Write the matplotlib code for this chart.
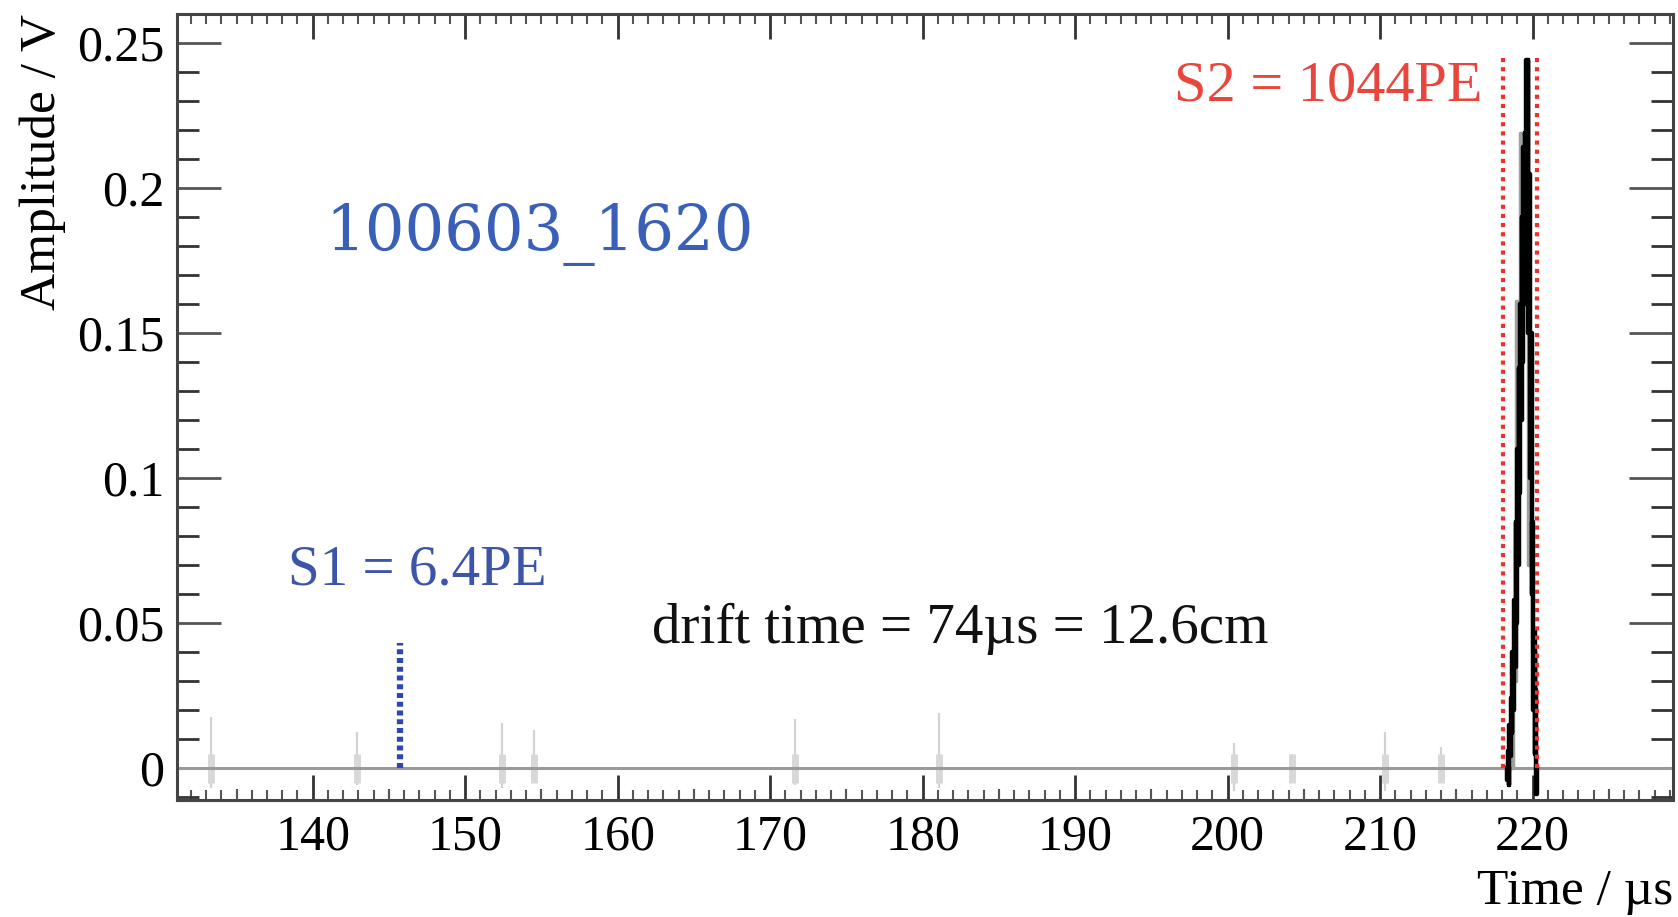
import numpy as np
import matplotlib
matplotlib.use("Agg")
import matplotlib.pyplot as plt
import matplotlib.transforms as mtransforms
from matplotlib.ticker import MultipleLocator

plt.rcParams['font.family'] = ['Liberation Serif', 'DejaVu Serif']

# time window and amplitude range (us, V)
x_range = [131.1, 229.2]
y_range = [-0.011, 0.26]

# S2 pulse, fast sampled trace
s2_t = [218.30, 218.35, 218.40, 218.45, 218.50, 218.55, 218.60, 218.65, 218.70, 218.75,
        218.80, 218.85, 218.90, 218.95, 219.00, 219.05, 219.10, 219.15, 219.20, 219.25,
        219.30, 219.35, 219.40, 219.45, 219.50, 219.55, 219.60, 219.65, 219.70, 219.75,
        219.80, 219.85, 219.90, 219.95, 220.00, 220.05, 220.10, 220.15, 220.20, 220.25, 220.30]
s2_v = [0.000, -0.004, 0.006, -0.006, 0.015, 0.004, 0.024, 0.012, 0.040, 0.020,
        0.058, 0.035, 0.085, 0.050, 0.110, 0.070, 0.138, 0.095, 0.160, 0.120,
        0.190, 0.140, 0.214, 0.160, 0.219, 0.175, 0.244, 0.180, 0.244, 0.150,
        0.205, 0.100, 0.150, 0.060, 0.085, 0.020, 0.048, 0.005, 0.027, -0.009, 0.000]

# second (summed) channel, coarse steps
sum_t = [218.40, 218.70, 218.90, 219.15, 219.40, 219.70, 219.95, 220.20]
sum_v = [0.000, 0.030, 0.161, 0.219, 0.170, 0.070, 0.040, 0.000]

# single photoelectron noise hits on the baseline
noise_t = [133.3, 142.9, 152.4, 154.5, 171.6, 181.1, 200.4, 204.2, 210.3, 214.0]
noise_hi = [0.0176, 0.0124, 0.0155, 0.013, 0.017, 0.019, 0.0086, 0.005, 0.0124, 0.0073]
noise_lo = [-0.007, -0.006, -0.007, -0.003, -0.006, -0.007, -0.008, -0.002, -0.008, -0.003]

# pulse windows
s1_time = 145.7
s1_height = 0.043
s2_window = [218.05, 220.28]
s2_top = 0.245

s1_label = "S1 = 6.4PE"
s2_label = "S2 = 1044PE"
drift_label = "drift time = 74µs = 12.6cm"
run_label = "100603_1620"

fig = plt.figure(figsize=(16.78, 9.17), dpi=100)
ax = fig.add_axes([0.1055, 0.1276, 0.997 - 0.1055, 0.9847 - 0.1276])
ax.set_xlim(x_range)
ax.set_ylim(y_range)

# baseline trace
ax.plot(x_range, [0, 0], color='#9a9a9a', lw=2.2, zorder=2)

# noise spikes
ax.vlines(noise_t, noise_lo, noise_hi, color='#d2d2d2', lw=1.6, zorder=1)
ax.vlines(noise_t, [-0.005] * len(noise_t), [0.005] * len(noise_t),
          color='#d8d8d8', lw=5, zorder=1)

# S2 pulse
ax.step(sum_t, sum_v, where='post', color='#a0a0a0', lw=2.5, zorder=3)
ax.plot(s2_t, s2_v, color='black', lw=3.2, zorder=4, drawstyle='steps-mid')

# S2 integration window
ax.vlines(s2_window, [0, 0], [s2_top, s2_top], color='#ee3030',
          lw=3, linestyles=(0, (1, 1.2)), zorder=5)

# S1 marker
ax.vlines([s1_time], [0], [s1_height], color='#2f45b0', lw=4.5,
          linestyles=(0, (0.8, 0.6)), zorder=5)

ax.text(216.7, 0.235, s2_label, color='#e8453c', fontsize=42, ha='right', va='center')
ax.text(140.85, 0.184, run_label, color='#3a5fb8', fontsize=45, family='DejaVu Serif',
        ha='left', va='center')
ax.text(138.4, 0.068, s1_label, color='#3d55a8', fontsize=41, ha='left', va='center')
ax.text(162.25, 0.048, drift_label, color='#111111', fontsize=41, ha='left', va='center')

# ROOT-like tick marks on all four sides
for s in ax.spines.values():
    s.set_color('#444444')
    s.set_linewidth(2.2)
ax.xaxis.set_major_locator(MultipleLocator(10))
ax.xaxis.set_minor_locator(MultipleLocator(1))
ax.yaxis.set_major_locator(MultipleLocator(0.05))
ax.yaxis.set_minor_locator(MultipleLocator(0.01))
ax.tick_params(axis='x', which='major', direction='in', length=18, width=2,
               top=True, color='#333333', labelsize=36, pad=10)
ax.tick_params(axis='x', which='minor', direction='in', length=7, width=1.5,
               top=True, color='#555555')
ax.tick_params(axis='y', which='major', direction='in', length=32, width=2,
               right=True, color='#555555', labelsize=36, pad=9)
ax.tick_params(axis='y', which='minor', direction='in', length=16, width=2,
               right=True, color='#333333')
ax.set_yticks([0, 0.05, 0.1, 0.15, 0.2, 0.25])
ax.set_yticklabels(['0', '0.05', '0.1', '0.15', '0.2', '0.25'])

# medium ticks every 5 us
trans = mtransforms.blended_transform_factory(ax.transData, ax.transAxes)
mid = np.arange(135, 230, 10)
ax.vlines(mid, 0, 0.014, transform=trans, color='#555555', lw=1.5, zorder=6)

ax.set_xlabel("Time / µs", fontsize=37, loc='right', labelpad=6)
ax.set_ylabel("Amplitude / V", fontsize=37, loc='top', labelpad=8)

fig.savefig("out.png", dpi=100)
